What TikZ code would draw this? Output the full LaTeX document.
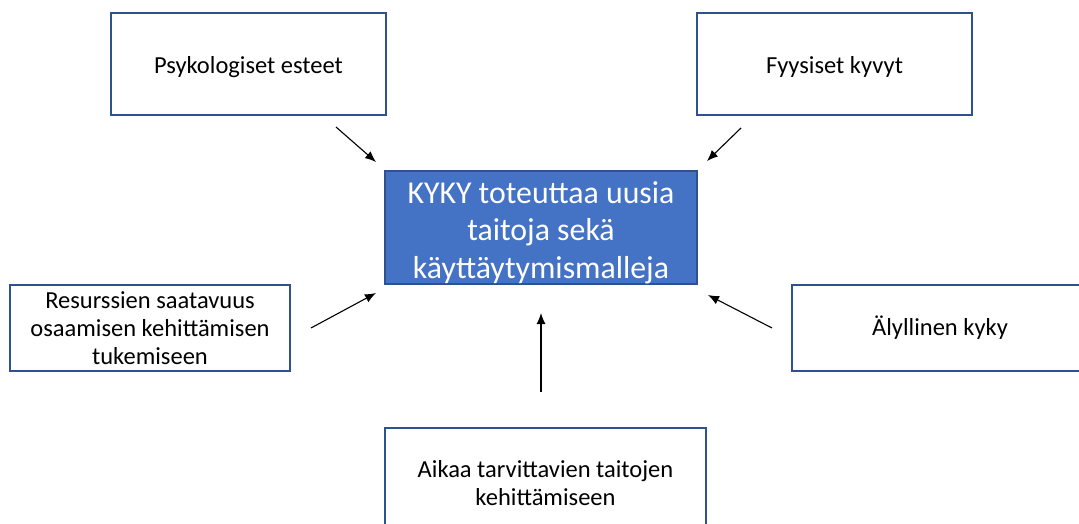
\documentclass[tikz,border=0pt]{standalone}
\usepackage{fontspec}
\setmainfont{Carlito}
\usepackage{xcolor}
\usetikzlibrary{calc, positioning, arrows.meta}

\definecolor{reuna}{HTML}{2F528F}
\definecolor{taytto}{HTML}{4472C4}

\tikzset{
    laatikko/.style={draw=reuna, line width=1.6pt, fill=white, align=center,
        font=\fontsize{24.5}{28}\selectfont, inner sep=0pt},
    keski/.style={draw=reuna, line width=1.2pt, fill=taytto, text=white, align=center,
        font=\fontsize{31.8}{37.5}\selectfont, inner sep=0pt},
    nuoli/.style={->, black, line width=1.1pt}
}

\begin{document}
\begin{tikzpicture}[>={Latex[length=11pt, width=9pt]}, x=1pt, y=-1pt]
    % 1. Kehys (kuvan reunat)
    \useasboundingbox (0,0) rectangle (1079,524);
    \clip (0,0) rectangle (1079,524);

    % 2. Keskimmäinen laatikko
    \node[keski, minimum width=312, minimum height=113] (kyky) at (541,227.5)
        {\raisebox{-5.5pt}[\height][\depth]{\begin{tabular}{c}KYKY toteuttaa uusia\\taitoja sekä\\käyttäytymismalleja\end{tabular}}};

    % 3. Ympäröivät laatikot
    \node[laatikko, minimum width=275, minimum height=102] (psyk) at (248.5,64)
        {\raisebox{-3pt}[\height][\depth]{Psykologiset esteet}};
    \node[laatikko, minimum width=275, minimum height=102] (fyys) at (834.5,64)
        {\raisebox{-3pt}[\height][\depth]{Fyysiset kyvyt}};
    \node[laatikko, minimum width=280, minimum height=86] (resu) at (150,328)
        {Resurssien saatavuus\\osaamisen kehittämisen\\tukemiseen};
    \node[laatikko, minimum width=296, minimum height=86] (alyl) at (940,328) {Älyllinen kyky};
    \node[laatikko, minimum width=321, minimum height=130] (aika) at (545.5,493)
        {\raisebox{36pt}{\begin{tabular}{c}Aikaa tarvittavien taitojen\\kehittämiseen\end{tabular}}};

    % 4. Nuolten alkupisteet ja kärjet
    \coordinate (p1) at (336,127);  \coordinate (k1) at (376,162);
    \coordinate (p2) at (741,128);  \coordinate (k2) at (707,161);
    \coordinate (p3) at (311,328);  \coordinate (k3) at (376,293);
    \coordinate (p4) at (772,328);  \coordinate (k4) at (708,295);
    \coordinate (p5) at (541,392);  \coordinate (k5) at (541,313);

    % 5. Nuolet kohti keskilaatikkoa
    \foreach \i in {1,...,5}
        \draw[nuoli] (p\i) -- (k\i);
\end{tikzpicture}
\end{document}
